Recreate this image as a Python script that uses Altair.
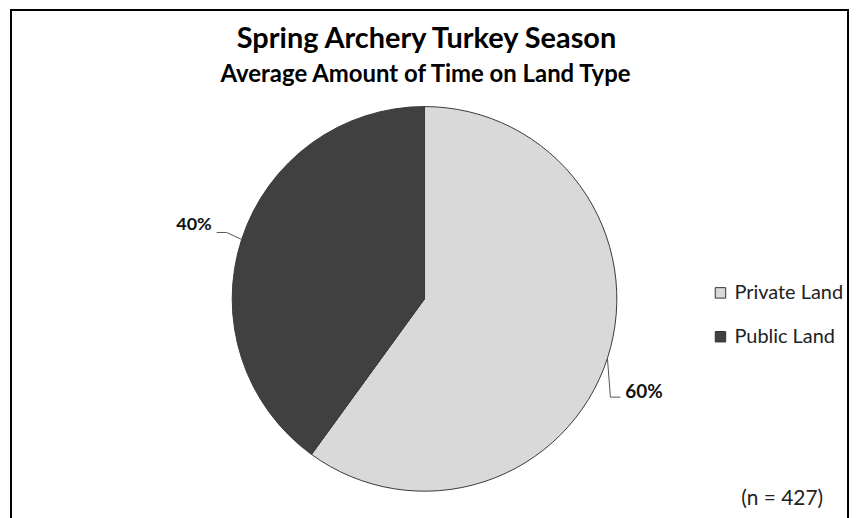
import math
import altair as alt
import pandas as pd

# ---- data ----
categories = ["Private Land", "Public Land"]
shares = [60, 40]
label_texts = ["60%", "40%"]
title_text = "Spring Archery Turkey Season"
subtitle_text = "Average Amount of Time on Land Type"
note_text = "(n = 427)"

# ---- layout / style ----
W, H = 841, 512
CX, CY, R = 416, 291, 193
LIGHT, DARK, EDGE = "#d9d9d9", "#404040", "#3a3a3a"
FONT = "Lato"
# leader elbow / end offsets from the slice edge point, and text offset from leader end
leader_style = {
    "Private Land": {"elbow": (3, 39), "end": (13, 39), "text": (5, -5), "align": "left"},
    "Public Land": {"elbow": (-15, -7), "end": (-25, -7), "text": (-5, -7), "align": "right"},
}

pie_df = pd.DataFrame({"cat": categories, "val": shares, "order": [0, 1]})

# geometry of labels derived from the data
total = sum(shares)
cum = 0
line_rows, text_rows = [], []
for c, v, t in zip(categories, shares, label_texts):
    mid = 2 * math.pi * (cum + v / 2) / total
    cum += v
    ex, ey = CX + R * math.sin(mid), CY - R * math.cos(mid)
    st = leader_style[c]
    pts = [(ex, ey), (ex + st["elbow"][0], ey + st["elbow"][1]), (ex + st["end"][0], ey + st["end"][1])]
    for i, (px, py) in enumerate(pts):
        line_rows.append({"cat": c, "i": i, "px": px, "py": py})
    text_rows.append({"cat": c, "label": t, "px": pts[2][0] + st["text"][0],
                      "py": pts[2][1] + st["text"][1], "align": st["align"]})
line_df = pd.DataFrame(line_rows)
text_df = pd.DataFrame(text_rows)

xs = alt.Scale(domain=[0, W], range=[0, W], nice=False, zero=False)
ys = alt.Scale(domain=[0, H], range=[0, H], nice=False, zero=False)

frame = alt.Chart(pd.DataFrame({"f": [0]})).mark_rect(
    fill="white", stroke="#000000", strokeWidth=2
).encode(x=alt.value(1), x2=alt.value(W), y=alt.value(1), y2=alt.value(H + 10))

pie = alt.Chart(pie_df).mark_arc(outerRadius=R, stroke=EDGE, strokeWidth=1).encode(
    theta=alt.Theta("val:Q", stack=True),
    order=alt.Order("order:Q"),
    color=alt.Color("cat:N", scale=alt.Scale(domain=categories, range=[LIGHT, DARK]),
                    legend=alt.Legend(title=None, orient="none", legendX=703, legendY=275,
                                      symbolType="square", symbolSize=110,
                                      symbolStrokeColor="#333333", symbolStrokeWidth=1,
                                      labelFont=FONT, labelFontSize=20, labelColor="#222222",
                                      labelLimit=300,
                                      rowPadding=24, labelOffset=4)),
    x=alt.value(CX), y=alt.value(CY),
)

leaders = alt.Chart(line_df).mark_line(color="#555555", strokeWidth=1).encode(
    x=alt.X("px:Q", scale=xs, axis=None),
    y=alt.Y("py:Q", scale=ys, axis=None),
    detail="cat:N",
    order="i:Q",
)

lab_right = alt.Chart(text_df[text_df["align"] == "right"]).mark_text(
    font=FONT, fontSize=18, fontWeight="bold", align="right", baseline="middle", color="#111111"
).encode(x=alt.X("px:Q", scale=xs, axis=None), y=alt.Y("py:Q", scale=ys, axis=None), text="label:N")

lab_left = alt.Chart(text_df[text_df["align"] == "left"]).mark_text(
    font=FONT, fontSize=19, fontWeight="bold", align="left", baseline="middle", color="#111111"
).encode(x=alt.X("px:Q", scale=xs, axis=None), y=alt.Y("py:Q", scale=ys, axis=None), text="label:N")

title = alt.Chart(pd.DataFrame({"t": [title_text]})).mark_text(
    font=FONT, fontSize=29, fontWeight="bold", align="center", baseline="middle", color="#000000"
).encode(x=alt.value(418), y=alt.value(30), text="t:N")

subtitle = alt.Chart(pd.DataFrame({"t": [subtitle_text]})).mark_text(
    font=FONT, fontSize=24, fontWeight="bold", align="center", baseline="middle", color="#000000"
).encode(x=alt.value(417), y=alt.value(66), text="t:N")

note = alt.Chart(pd.DataFrame({"t": [note_text]})).mark_text(
    font=FONT, fontSize=21, align="center", baseline="middle", color="#222222"
).encode(x=alt.value(775), y=alt.value(492), text="t:N")

chart = alt.layer(frame, pie, leaders, lab_right, lab_left, title, subtitle, note).properties(
    width=W, height=H,
    autosize=alt.AutoSizeParams(type="none"),
    padding={"left": 2, "top": 0, "right": 4, "bottom": 0},
).configure_view(stroke=None).configure(background="white")

chart.save("out.html", embed_options={"renderer": "svg", "actions": False})
